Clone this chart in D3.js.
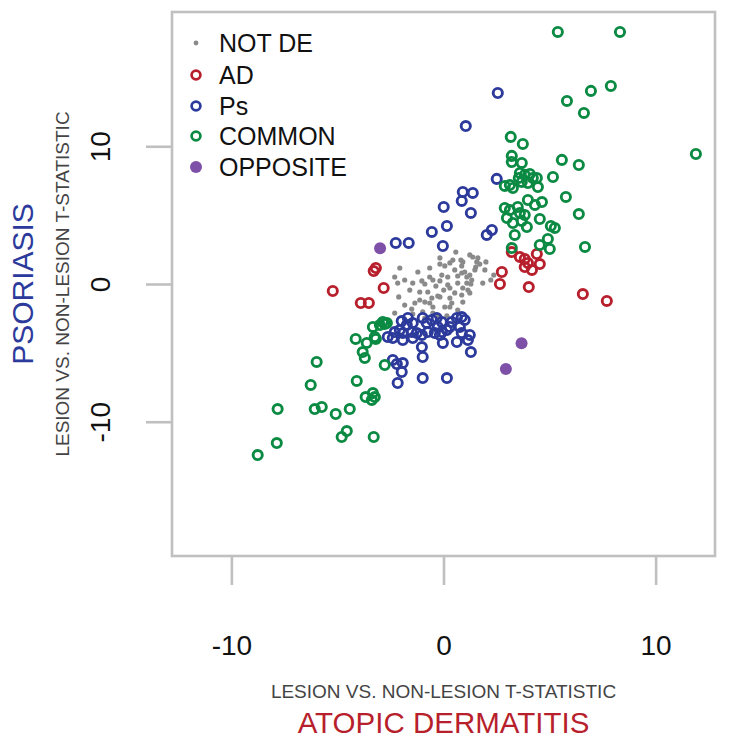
<!DOCTYPE html>
<html>
<head>
<meta charset="utf-8">
<script src="https://cdn.jsdelivr.net/npm/d3@7"></script>
<style>
  html, body { margin: 0; padding: 0; background: #fff; }
  svg { display: block; font-family: "Liberation Sans", Arial, Helvetica, sans-serif; }
</style>
</head>
<body>
<div id="chart"></div>
<script>
// ---- data (x = Atopic dermatitis t-stat, y = Psoriasis t-stat) ----
const notDE = [
  [0.58,2.32],[-0.17,1.89],[-0.17,1.45],[0.30,1.53],[0.44,1.74],[0.91,1.60],[0.86,1.31],[1.24,2.11],
  [1.38,1.96],[1.57,1.60],[1.71,1.45],[1.52,1.23],[-2.06,1.16],[-2.30,0.51],[-2.16,0.07],[-1.45,0.07],
  [-1.02,0.22],[-0.88,0.00],[-0.65,0.51],[-0.50,0.29],[-0.08,0.65],[0.20,0.51],[0.20,-0.07],[0.30,-0.29],
  [0.67,0.58],[0.86,0.80],[1.00,0.87],[1.10,0.51],[1.24,0.65],[1.33,0.29],[1.10,0.07],[1.15,-0.44],
  [1.24,-0.65],[0.91,-0.29],[1.85,0.07],[2.23,0.29],[-2.11,-0.94],[-1.35,-1.38],[-1.12,-1.16],[-0.88,-1.31],
  [-0.65,-1.38],[-0.50,-1.67],[-0.17,-0.94],[0.30,-1.02],[0.39,-1.38],[0.30,-1.67],[0.91,-1.31],[-2.30,-2.11],
  [-1.45,-2.18],[-0.98,-2.03],[-0.50,-2.11],[0.16,-2.32],[1.62,1.89],[0.82,1.74],[0.06,1.31],[1.29,0.00],
  [-0.27,-0.87],[-0.55,-1.02],[-1.59,-0.44],[-1.83,-1.53],[-0.74,-0.58],[0.53,-0.65],[0.67,0.07],[0.01,-0.44],
  [-0.36,-0.15],[-1.12,-0.58],[1.48,1.02],[1.95,1.02],[0.06,-1.67],[0.67,-1.89],[-0.88,-2.47],[-0.27,-2.32],
  [-1.83,0.29],[-1.21,0.87],[-0.65,1.16],[0.53,1.02],[2.00,1.60],[2.37,0.65],[-0.17,0.22],[-1.50,-1.82],
  [0.86,-0.80]
];
const adOnly = [
  [-5.22,-0.51],[-3.29,0.94],[-3.19,1.16],[-2.82,-0.29],[-3.90,-1.38],[-3.52,-1.38],[2.75,0.87],[2.66,0.00],
  [3.22,2.32],[3.60,1.96],[3.83,1.82],[3.98,1.53],[4.40,2.18],[4.54,1.45],[4.17,1.02],[3.83,1.23],
  [4.02,-0.22],[6.57,-0.73],[7.70,-1.23]
];
const psOnly = [
  [2.56,13.87],[1.05,11.47],[2.51,7.63],[0.91,6.68],[1.38,6.61],[0.86,6.03],[0.01,5.59],[1.29,5.16],
  [0.16,4.21],[2.04,3.56],[2.28,3.92],[-0.55,3.78],[-0.03,2.76],[-2.25,2.98],[-1.64,2.98],
  [-1.97,-2.69],[-1.68,-2.47],[-1.73,-2.98],[-1.45,-2.83],[-0.98,-2.47],[-0.79,-2.83],[-0.55,-2.61],[-0.32,-2.47],
  [-0.08,-2.76],[-0.27,-3.12],[0.39,-2.76],[0.63,-2.47],[0.86,-2.40],[1.00,-2.61],[0.77,-3.12],[0.30,-3.12],
  [-2.30,-3.49],[-2.06,-3.34],[-1.92,-3.56],[-1.50,-3.49],[-1.26,-3.56],[-1.02,-3.70],[-0.74,-3.49],[-0.41,-3.56],
  [-0.08,-3.49],[0.16,-3.34],[-2.39,-3.92],[-1.92,-4.07],[-1.45,-3.92],[-0.17,-3.70],[-0.03,-4.28],[0.63,-4.21],
  [0.86,-3.56],[1.24,-3.70],[1.15,-4.07],[1.29,-4.94],[-1.02,-4.58],[-0.98,-5.30],[-2.39,-5.52],[-1.92,-5.74],
  [-2.20,-5.81],[-1.97,-6.39],[-2.16,-7.19],[-0.98,-6.83],[0.16,-6.83],[-2.63,-3.85]
];
const common = [
  [5.39,18.30],[8.32,18.30],[7.89,14.38],[6.95,14.02],[5.82,13.29],[6.62,12.42],[11.90,9.44],[3.17,10.68],
  [3.74,10.17],[3.22,9.30],[3.22,8.86],[3.69,8.79],[5.58,9.01],[6.38,8.64],[5.16,7.77],[3.60,8.06],
  [4.07,7.99],[4.21,7.70],[3.69,7.41],[3.98,7.33],[4.45,7.04],[2.89,7.12],[3.27,6.97],[3.55,7.70],
  [3.83,7.92],[4.40,7.70],[3.13,7.19],[5.77,6.32],[3.98,6.10],[4.31,5.74],[4.64,5.95],[6.38,5.08],
  [3.13,5.37],[3.50,5.59],[3.83,5.01],[2.99,4.79],[3.27,4.43],[3.93,4.14],[4.54,4.72],[5.06,4.21],
  [5.25,4.07],[3.60,5.16],[3.36,3.56],[4.92,3.27],[5.01,2.54],[6.67,2.69],[3.22,2.61],[4.54,2.83],
  [2.89,5.52],[3.69,4.58],
  [-8.76,-12.42],[-7.86,-11.55],[-7.82,-9.08],[-6.26,-7.33],[-5.98,-5.66],[-6.07,-9.08],[-5.74,-8.93],[-5.08,-9.44],
  [-4.80,-11.11],[-4.56,-10.68],[-4.42,-9.08],[-4.09,-7.04],[-3.67,-8.21],[-3.33,-7.92],[-3.24,-8.21],[-3.38,-8.42],
  [-3.29,-11.11],[-4.14,-3.99],[-3.62,-4.28],[-3.19,-3.99],[-3.81,-4.94],[-3.71,-5.37],[-2.77,-5.88],[-2.86,-2.76],
  [-3.33,-3.12],[-2.77,-2.90],[-2.67,-2.83],[-3.24,-3.85],[-3.00,-2.98]
];
const opposite = [[-2.99,2.59],[3.68,-4.31],[2.94,-6.17]];

const xTicks = [-10, 0, 10];
const yTicks = [-10, 0, 10];
const tickLabels = ["-10", "0", "10"];
const legendLabels = ["NOT DE", "AD", "Ps", "COMMON", "OPPOSITE"];

// ---- colours ----
const cGray = "#8a8a8a", cRed = "#b81f2c", cBlue = "#2c3a9c", cGreen = "#0b8a43", cPurple = "#7e50a8";
const frame = "#c0c0c0";

const W = 729, H = 739;
const svg = d3.select("#chart").append("svg").attr("width", W).attr("height", H);

const x = d3.scaleLinear().domain([-12.8, 12.8]).range([172, 715]);
const y = d3.scaleLinear().domain([-19.75, 19.75]).range([556, 12]);
const fmt = d => tickLabels[xTicks.indexOf(d)];

// axes
const xAxis = svg.append("g").attr("transform", "translate(0,556)")
  .call(d3.axisBottom(x).tickValues(xTicks).tickSize(29).tickFormat(fmt));
xAxis.select(".domain").remove();
xAxis.selectAll(".tick line").attr("stroke", frame).attr("stroke-width", 2.6);
xAxis.selectAll(".tick text").attr("y", 99).attr("dy", null)
  .attr("font-size", 28).attr("fill", "#111").style("font-family", "Liberation Sans, Arial, sans-serif");

const yAxis = svg.append("g").attr("transform", "translate(172,0)")
  .call(d3.axisLeft(y).tickValues(yTicks).tickSize(26).tickFormat(fmt));
yAxis.select(".domain").remove();
yAxis.selectAll(".tick line").attr("stroke", frame).attr("stroke-width", 2.6);
yAxis.selectAll(".tick text").attr("x", null).attr("dy", null)
  .attr("text-anchor", "middle").attr("transform", "translate(-62,0) rotate(-90)")
  .attr("font-size", 28).attr("fill", "#111").style("font-family", "Liberation Sans, Arial, sans-serif");

// frame
svg.append("rect").attr("x", 172).attr("y", 12).attr("width", 543).attr("height", 544)
  .attr("fill", "none").attr("stroke", frame).attr("stroke-width", 2.6);

// points
const plot = svg.append("g");
plot.selectAll("circle.nd").data(notDE).join("circle").attr("class", "nd")
  .attr("cx", d => x(d[0])).attr("cy", d => y(d[1])).attr("r", 2.6).attr("fill", cGray);

function ring(data, color, cls) {
  plot.selectAll("circle." + cls).data(data).join("circle").attr("class", cls)
    .attr("cx", d => x(d[0])).attr("cy", d => y(d[1])).attr("r", 4.6)
    .attr("fill", "none").attr("stroke", color).attr("stroke-width", 2.9);
}
ring(adOnly, cRed, "ad");
ring(psOnly, cBlue, "ps");
ring(common, cGreen, "cm");
plot.selectAll("circle.op").data(opposite).join("circle").attr("class", "op")
  .attr("cx", d => x(d[0])).attr("cy", d => y(d[1])).attr("r", 6).attr("fill", cPurple);

// legend
const legY = [43, 75, 106, 136, 167];
const leg = svg.append("g");
legendLabels.forEach((lab, i) => {
  const cy = legY[i];
  if (i === 0) leg.append("circle").attr("cx", 196).attr("cy", cy).attr("r", 2.4).attr("fill", cGray);
  else if (i === 4) leg.append("circle").attr("cx", 196).attr("cy", cy).attr("r", 6).attr("fill", cPurple);
  else leg.append("circle").attr("cx", 196).attr("cy", cy).attr("r", 4.4).attr("fill", "none")
    .attr("stroke", [null, cRed, cBlue, cGreen][i]).attr("stroke-width", 2.7);
  leg.append("text").attr("x", 219).attr("y", cy + 9).attr("font-size", 25).attr("fill", "#111").text(lab);
});

// axis titles
svg.append("text").attr("x", 443.5).attr("y", 698).attr("text-anchor", "middle")
  .attr("font-size", 19).attr("fill", "#444").text("LESION VS. NON-LESION T-STATISTIC");
svg.append("text").attr("x", 443.5).attr("y", 733).attr("text-anchor", "middle")
  .attr("font-size", 29.5).attr("fill", cRed).text("ATOPIC DERMATITIS");
svg.append("text").attr("transform", "translate(68.5,284) rotate(-90)").attr("text-anchor", "middle")
  .attr("font-size", 19).attr("fill", "#444").text("LESION VS. NON-LESION T-STATISTIC");
svg.append("text").attr("transform", "translate(33,284) rotate(-90)").attr("text-anchor", "middle")
  .attr("font-size", 30).attr("fill", cBlue).text("PSORIASIS");
</script>
</body>
</html>
